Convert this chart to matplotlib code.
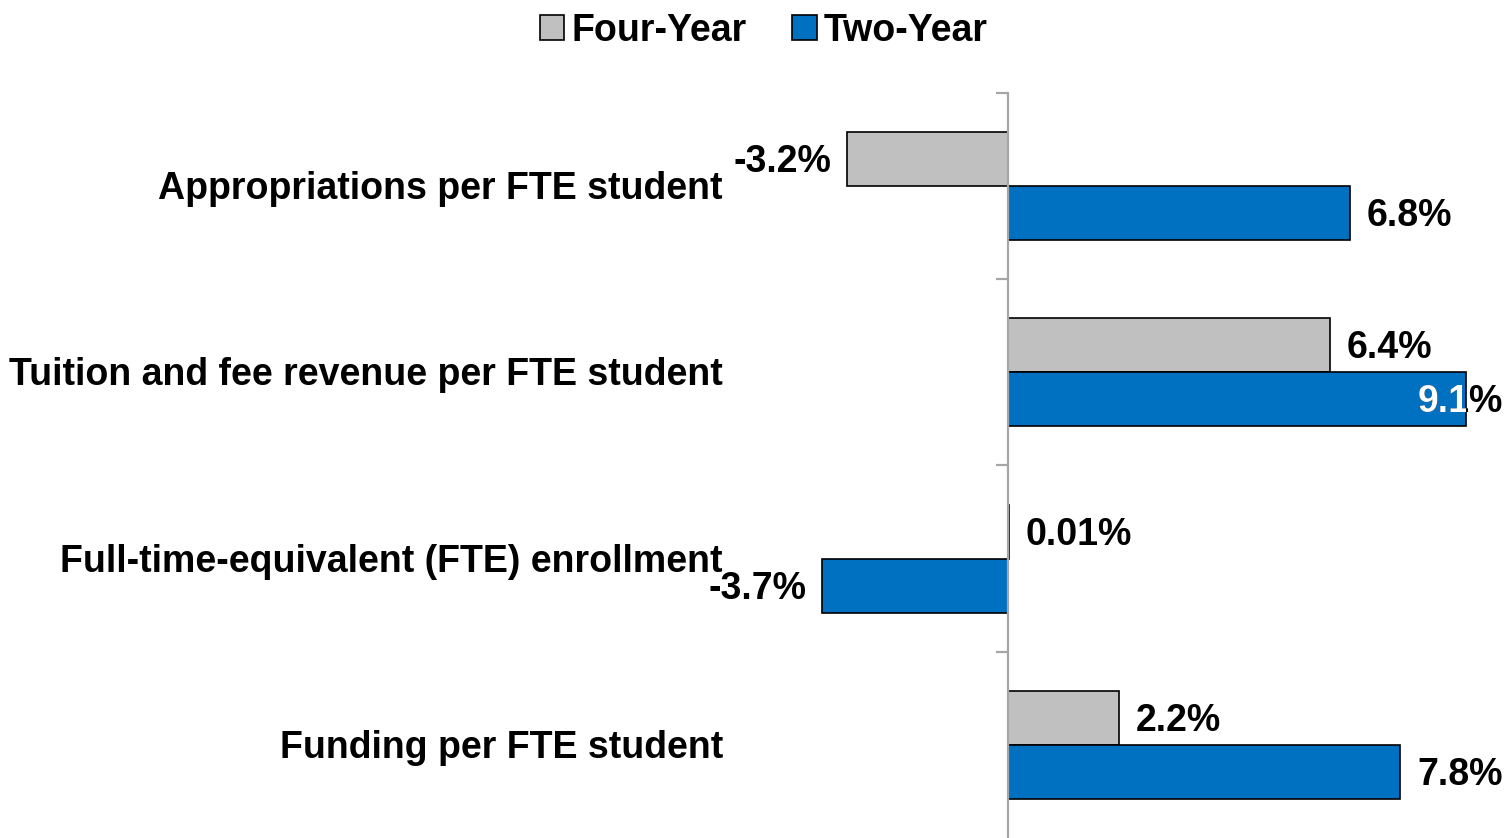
import matplotlib.pyplot as plt
import matplotlib.transforms as mtransforms
import numpy as np

plt.rcParams['font.family'] = ['Liberation Sans', 'DejaVu Sans']
plt.rcParams['font.weight'] = 'bold'

# data
categories = ["Appropriations per FTE student",
              "Tuition and fee revenue per FTE student",
              "Full-time-equivalent (FTE) enrollment",
              "Funding per FTE student"]
four_year = [-3.2, 6.4, 0.01, 2.2]
two_year = [6.8, 9.1, -3.7, 7.8]
four_labels = ["-3.2%", "6.4%", "0.01%", "2.2%"]
two_labels = ["6.8%", "9.1%", "-3.7%", "7.8%"]
series_names = ["Four-Year", "Two-Year"]

gray = '#C0C0C0'
blue = '#0070C0'
fs = 27

fig = plt.figure(figsize=(15.07, 8.38), dpi=100)
ax = fig.add_axes([730 / 1507, 0, 777 / 1507, 745 / 838])

y = np.arange(len(categories))
h = 0.29
bars4 = ax.barh(y - h / 2, four_year, height=h, color=gray, edgecolor='black', linewidth=1.2, label=series_names[0])
bars2 = ax.barh(y + h / 2, two_year, height=h, color=blue, edgecolor='black', linewidth=1.2, label=series_names[1])

xmin, xmax = -5.53, 9.92
ax.set_xlim(xmin, xmax)
ax.set_ylim(3.5, -0.5)

# axis at zero with boundary ticks
for s in ['top', 'right', 'bottom']:
    ax.spines[s].set_visible(False)
ax.spines['left'].set_position(('data', 0))
ax.spines['left'].set_color('#A6A6A6')
ax.spines['left'].set_linewidth(1.6)
ax.set_xticks([])
ax.set_yticks([])
ax.set_yticks(np.arange(-0.5, 3.0, 1), minor=True)
ax.tick_params(axis='y', which='minor', direction='out', length=8.5, width=1.6,
               color='#A6A6A6', labelleft=False)

# category labels
shift = mtransforms.ScaledTranslation(0, -3 / 100, fig.dpi_scale_trans)
trans = mtransforms.blended_transform_factory(fig.transFigure, ax.transData) + shift
for yi, cat in zip(y, categories):
    ax.text(723 / 1507, yi, cat, transform=trans, ha='right', va='center',
            fontsize=fs, fontweight='bold')

# value labels
def put_label(bar, val, txt):
    yc = bar.get_y() + bar.get_height() / 2
    if val >= 0:
        ax.annotate(txt, (val, yc), xytext=(17, -3), textcoords='offset pixels',
                    ha='left', va='center', fontsize=fs, fontweight='bold')
    else:
        ax.annotate(txt, (val, yc), xytext=(-16, -3), textcoords='offset pixels',
                    ha='right', va='center', fontsize=fs, fontweight='bold')

for b, v, t in zip(bars4, four_year, four_labels):
    put_label(b, v, t)
for b, v, t in zip(bars2, two_year, two_labels):
    if v + 1.9 > xmax:
        # label pushed inside the chart edge, white where it overlaps the bar
        yc = b.get_y() + b.get_height() / 2
        for col, clip in (('black', False), ('white', True)):
            a = ax.annotate(t, (xmax, yc), xytext=(-4, -3), textcoords='offset pixels',
                            ha='right', va='center', fontsize=fs, fontweight='bold',
                            color=col, annotation_clip=False)
            if clip:
                a.set_clip_path(b)
    else:
        put_label(b, v, t)

fig.legend(handles=[bars4, bars2], labels=series_names, loc='upper center',
           bbox_to_anchor=(0.507, 1.025), ncol=2, frameon=False,
           handlelength=0.65, handleheight=0.65, handletextpad=0.2, columnspacing=1.2,
           prop={'weight': 'bold', 'size': fs})

plt.savefig('out.png', dpi=100)
